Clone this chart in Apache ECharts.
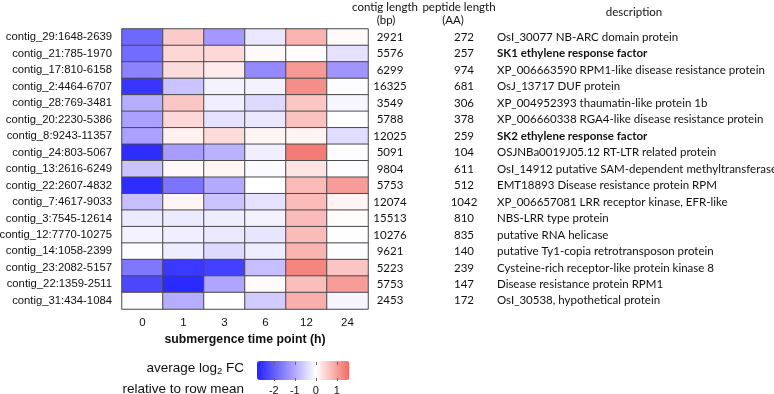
<!DOCTYPE html>
<html>
<head>
<meta charset="utf-8">
<script src="https://cdn.jsdelivr.net/npm/echarts@6/dist/echarts.min.js"></script>
<style>
  html, body { margin: 0; padding: 0; background: #fff; }
  #chart { width: 774px; height: 394px; }
</style>
</head>
<body>
<div id="chart"></div>
<script>
// rows of the heatmap (top to bottom)
const contigs = [
  "contig_29:1648-2639", "contig_21:785-1970", "contig_17:810-6158", "contig_2:4464-6707",
  "contig_28:769-3481", "contig_20:2230-5386", "contig_8:9243-11357", "contig_24:803-5067",
  "contig_13:2616-6249", "contig_22:2607-4832", "contig_7:4617-9033", "contig_3:7545-12614",
  "contig_12:7770-10275", "contig_14:1058-2399", "contig_23:2082-5157", "contig_22:1359-2511",
  "contig_31:434-1084"
];
const timePoints = ["0", "1", "3", "6", "12", "24"];
const contigLengths = [2921, 5576, 6299, 16325, 3549, 5788, 12025, 5091, 9804, 5753, 12074, 15513, 10276, 9621, 5223, 5753, 2453];
const peptideLengths = [272, 257, 974, 681, 306, 378, 259, 104, 611, 512, 1042, 810, 835, 140, 239, 147, 172];
const descriptions = [
  "OsI_30077 NB-ARC domain protein",
  "SK1 ethylene response factor",
  "XP_006663590 RPM1-like disease resistance protein",
  "OsJ_13717 DUF protein",
  "XP_004952393 thaumatin-like protein 1b",
  "XP_006660338 RGA4-like disease resistance protein",
  "SK2 ethylene response factor",
  "OSJNBa0019J05.12 RT-LTR related protein",
  "OsI_14912 putative SAM-dependent methyltransferase",
  "EMT18893 Disease resistance protein RPM",
  "XP_006657081 LRR receptor kinase, EFR-like",
  "NBS-LRR type protein",
  "putative RNA helicase",
  "putative Ty1-copia retrotransposon protein",
  "Cysteine-rich receptor-like protein kinase 8",
  "Disease resistance protein RPM1",
  "OsI_30538, hypothetical protein"
];
// average log2 FC relative to row mean, columns = time points 0,1,3,6,12,24 h
const logFC = [
  [-1.85, 0.55, -1.2, -0.28, 0.8, 0.05],
  [-1.8, 0.42, 0.4, 0.05, 0.03, -0.35],
  [-1.5, 0.37, 0.2, -1.4, 1.1, -1.25],
  [-2.55, -0.7, -0.15, -0.15, 1.2, -0.03],
  [-0.95, 0.6, -0.2, -0.45, 0.6, -0.1],
  [-1.1, 0.4, -0.35, -0.28, 0.65, 0],
  [-1.1, 0.15, 0.37, 0.1, 0.12, -0.4],
  [-2.65, -1.15, -0.9, -0.2, 1.4, -0.02],
  [-0.7, 0.07, 0.1, -0.05, 0.3, -0.03],
  [-2.65, -1.7, -1.0, 0, 0.72, 1.05],
  [-0.75, 0.1, -0.7, -0.35, 0.72, 0.12],
  [-0.25, -0.25, -0.22, -0.15, 0.72, 0.03],
  [-0.15, -0.2, -0.28, -0.3, 0.72, 0.01],
  [-0.03, -0.22, -0.45, -0.22, 0.8, -0.02],
  [-1.65, -2.5, -2.4, -0.75, 1.3, 0.62],
  [-2.3, -2.7, -1.05, 0.04, 0.68, 1.05],
  [-0.03, -0.95, 0, -0.6, 0.85, -0.12]
];
const boldRows = [1, 6];
const legendTicks = [-2, -1, 0, 1];

const sansFont = "Liberation Sans";
const tableFont = "Lato";
const tableSize = 11.5;
const minV = -2.8, maxV = 1.6;

// color ramp: blue -> lavender -> white -> salmon
const anchors = [[-2.8, [34, 34, 255]], [-1.2, [164, 152, 255]], [0, [255, 255, 255]], [1.6, [242, 104, 98]]];
function colorAt(v) {
  for (let i = 0; i < anchors.length - 1; i++) {
    const [v0, c0] = anchors[i], [v1, c1] = anchors[i + 1];
    if (v <= v1 + 1e-9) {
      const t = (v - v0) / (v1 - v0);
      return "rgb(" + c0.map((c, k) => Math.round(c + (c1[k] - c) * t)).join(",") + ")";
    }
  }
  return "rgb(" + anchors[anchors.length - 1][1].join(",") + ")";
}
const rampColors = [];
for (let i = 0; i <= 11; i++) rampColors.push(colorAt(minV + i * 0.4));

const heatData = [];
logFC.forEach((row, r) => row.forEach((v, c) => heatData.push([c, r, v])));

const chart = echarts.init(document.getElementById("chart"));

const tableAxis = (data, margin, align, extraLabel) => ({
  type: "category",
  gridIndex: 0,
  data: data,
  inverse: true,
  position: "right",
  axisLine: { show: false },
  axisTick: { show: false },
  splitLine: { show: false },
  axisLabel: Object.assign({
    margin: margin,
    align: align,
    color: "#111",
    fontFamily: tableFont,
    fontSize: tableSize
  }, extraLabel || {})
});

// small text blocks (table headers, colour key captions)
const label = (text, x, y, align, style) => ({
  text: text,
  left: x,
  top: y,
  textAlign: align,
  padding: 0,
  textStyle: Object.assign({ color: "#111", fontWeight: "normal" }, style)
});
const headStyle = { fontFamily: tableFont, fontSize: 11.5 };
const keyStyle = { fontFamily: sansFont, fontSize: 13.5 };

const option = {
  animation: false,
  backgroundColor: "#fff",
  title: [
    label("contig length", 385, 1, "center", headStyle),
    label("(bp)", 386, 14, "center", headStyle),
    label("peptide length", 459, 1, "center", headStyle),
    label("(AA)", 453, 14, "center", headStyle),
    label("description", 634, 6, "center", headStyle),
    label("average log{s|2} FC", 244, 360, "right", Object.assign({
      rich: { s: { fontFamily: sansFont, fontSize: 9.5, verticalAlign: "bottom", padding: [6, 0, 0, 0] } }
    }, keyStyle)),
    label("relative to row mean", 244, 382, "right", keyStyle)
  ],
  grid: [
    { left: 122, top: 29, width: 246, height: 280, outerBoundsMode: "none" },
    { left: 257, top: 362, width: 92.4, height: 19, outerBoundsMode: "none" }
  ],
  xAxis: [
    {
      type: "category",
      gridIndex: 0,
      data: timePoints,
      axisLine: { show: false },
      axisTick: { show: false },
      splitArea: { show: false },
      axisLabel: { margin: 8, color: "#111", fontFamily: sansFont, fontSize: 11.5 },
      name: "submergence time point (h)",
      nameLocation: "middle",
      nameGap: 14,
      nameTextStyle: { color: "#111", fontFamily: sansFont, fontSize: 12.3, fontWeight: "bold" }
    },
    {
      type: "value",
      gridIndex: 1,
      min: minV,
      max: maxV,
      position: "bottom",
      z: 10,
      axisLine: { show: false },
      splitLine: { show: false },
      axisTick: { show: true, inside: true, length: 3, customValues: legendTicks, lineStyle: { color: "#666" } },
      axisLabel: { margin: 4, customValues: legendTicks, color: "#111", fontFamily: sansFont, fontSize: 11 }
    },
    {
      type: "value",
      gridIndex: 1,
      min: minV,
      max: maxV,
      position: "top",
      z: 10,
      axisLine: { show: false },
      splitLine: { show: false },
      axisTick: { show: true, inside: true, length: 3, customValues: legendTicks, lineStyle: { color: "#666" } },
      axisLabel: { show: false }
    }
  ],
  yAxis: [
    {
      type: "category",
      gridIndex: 0,
      data: contigs,
      inverse: true,
      axisLine: { show: false },
      axisTick: { show: false },
      axisLabel: { margin: 10, color: "#111", fontFamily: sansFont, fontSize: 11.3 }
    },
    tableAxis(contigLengths, 22, "center"),
    tableAxis(peptideLengths, 96, "center"),
    tableAxis(descriptions, 129, "left", {
      formatter: (value, idx) => boldRows.includes(idx) ? "{b|" + value + "}" : value,
      rich: { b: { fontFamily: tableFont, fontSize: tableSize, fontWeight: "bold", color: "#111" } }
    }),
    { type: "value", gridIndex: 1, show: false }
  ],
  visualMap: {
    type: "continuous",
    seriesIndex: 0,
    min: minV,
    max: maxV,
    orient: "horizontal",
    calculable: false,
    itemWidth: 19,
    itemHeight: 92.4,
    left: 242,
    top: 346,
    text: null,
    z: 1,
    inRange: { color: rampColors }
  },
  series: [
    {
      type: "heatmap",
      xAxisIndex: 0,
      yAxisIndex: 0,
      data: heatData,
      itemStyle: { borderColor: "#4a4a4a", borderWidth: 1 },
      emphasis: { disabled: true }
    }
  ]
};

chart.setOption(option);
</script>
</body>
</html>
